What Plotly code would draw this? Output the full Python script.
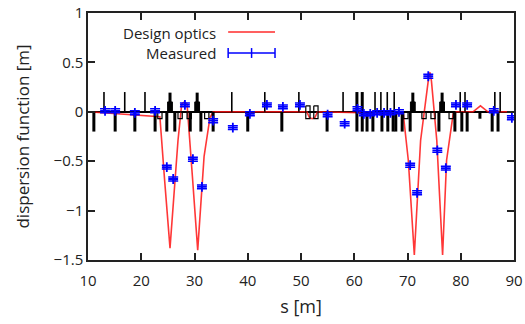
import plotly.graph_objects as go

# ---------------- data ----------------
design_s = [10, 23.5, 24.4, 25.4, 26.9, 27.6, 28.1, 28.6, 29.6, 30.6, 31.8, 32.9, 33.5,
            51.1, 51.6, 52.1, 52.6, 53.1,
            69.2, 70.15, 71.28, 72.46, 73.89, 74.23, 74.5, 75.5, 76.59, 77.34, 78.58, 79.2,
            82.3, 83.7, 85.1, 90]
design_y = [0, -0.05, -0.7, -1.38, -0.29, 0.08, 0.10, 0.08, -0.65, -1.40, -0.45, -0.06, 0,
            0, -0.06, -0.07, -0.06, 0,
            -0.02, -0.49, -1.45, -0.29, 0.31, 0.40, 0.31, -0.29, -1.45, -0.49, -0.02, 0,
            0, 0.06, 0, 0]

meas_s = [13.2, 15.1, 18.8, 22.6, 24.8, 26.0, 28.2, 29.7, 31.4, 33.5, 37.2, 40.4, 43.6,
          46.6, 49.8, 55.0, 58.2, 60.6, 61.8, 63.0, 64.3, 65.6, 66.8, 68.4, 70.5, 71.8,
          73.9, 75.6, 77.2, 79.1, 81.2, 86.2, 89.6]
meas_y = [0.01, 0.01, -0.01, 0.01, -0.56, -0.68, 0.07, -0.48, -0.76, -0.09, -0.16, -0.02, 0.07,
          0.05, 0.07, -0.03, -0.12, 0.03, -0.02, -0.02, -0.01, -0.01, -0.01, 0.0, -0.54, -0.82,
          0.36, -0.39, -0.57, 0.07, 0.07, 0.01, -0.06]
meas_err = [0.02] * len(meas_s)

# lattice elements (positions along s)
thin_up = [13.0, 16.9, 20.7, 37.0, 43.2, 49.6, 57.9, 63.9, 65.0, 66.2, 67.5, 79.9, 80.8, 86.4, 87.4]
thick_up = [60.5, 61.5]
thick_down = [11.1, 15.1, 18.8, 22.6, 24.8, 26.3, 29.2, 31.2, 33.5, 40.0, 46.4, 54.9, 60.5,
              61.5, 62.4, 63.5, 65.2, 66.3, 67.3, 67.8, 69.0, 70.5, 75.9, 78.9, 80.2, 81.2,
              85.9, 87.0]
short_down = [83.6]
quad_focus = [25.4, 30.5, 71.0, 76.5]
open_box = [23.5, 27.3, 29.0, 32.3, 69.7, 73.1, 74.8, 78.2]
small_box = [51.3, 52.8]

# element drawing sizes (style)
H_LINE = 0.2
H_QBOX = 0.1
W_QBOX = 0.9
H_OBOX = 0.07
W_OBOX = 0.8


def vsegs(xs, y0, y1):
    X, Y = [], []
    for s in xs:
        X += [s, s, None]
        Y += [y0, y1, None]
    return X, Y


def boxes(xs, w, y0, y1):
    X, Y = [], []
    for s in xs:
        X += [s - w / 2, s + w / 2, s + w / 2, s - w / 2, s - w / 2, None]
        Y += [y0, y0, y1, y1, y0, None]
    return X, Y


fig = go.Figure()

# design optics
fig.add_trace(go.Scatter(x=design_s, y=design_y, mode="lines",
                         line=dict(color="rgba(255,20,20,0.85)", width=1.6),
                         showlegend=False, hoverinfo="skip"))

# lattice
for xs, y0, y1, wd in [(thin_up, 0, H_LINE, 1.6), (thick_up, 0, H_LINE, 3),
                       (thick_down, 0, -H_LINE, 3), (short_down, 0, -H_OBOX, 3),
                       (quad_focus, 0, H_LINE * 0.97, 3)]:
    X, Y = vsegs(xs, y0, y1)
    fig.add_trace(go.Scatter(x=X, y=Y, mode="lines", line=dict(color="black", width=wd),
                             showlegend=False, hoverinfo="skip"))

X, Y = boxes(quad_focus, W_QBOX, 0, H_QBOX)
fig.add_trace(go.Scatter(x=X, y=Y, mode="lines", fill="toself", fillcolor="black",
                         line=dict(color="black", width=1), showlegend=False, hoverinfo="skip"))
X, Y = boxes(open_box, W_OBOX, 0, -H_OBOX)
fig.add_trace(go.Scatter(x=X, y=Y, mode="lines", line=dict(color="black", width=1.2),
                         showlegend=False, hoverinfo="skip"))
X, Y = boxes(small_box, W_OBOX, 0.06, -H_OBOX)
fig.add_trace(go.Scatter(x=X, y=Y, mode="lines", line=dict(color="black", width=1.2),
                         showlegend=False, hoverinfo="skip"))

# measured
fig.add_trace(go.Scatter(x=meas_s, y=meas_y, mode="markers",
                         marker=dict(symbol="cross-thin", size=7, color="blue",
                                     line=dict(color="blue", width=1.8)),
                         error_y=dict(type="data", array=meas_err, color="blue",
                                      thickness=1.5, width=5),
                         showlegend=False, hoverinfo="skip"))

font = "Open Sans, DejaVu Sans, sans-serif"
txtc = "#222222"

axis_common = dict(showline=True, linecolor=txtc, linewidth=1.5, mirror="ticks",
                   ticks="inside", ticklen=7, tickwidth=1.5, tickcolor=txtc,
                   showgrid=False, automargin=False,
                   tickfont=dict(family=font, size=15, color=txtc))

fig.update_xaxes(range=[10, 90], dtick=10, tick0=10, zeroline=False,
                 ticklabelstandoff=6,
                 title=dict(text="s [m]", font=dict(family=font, size=18, color=txtc),
                            standoff=12),
                 **axis_common)
fig.update_yaxes(range=[-1.5, 1], dtick=0.5, tick0=0, zeroline=True,
                 zerolinecolor="black", zerolinewidth=2,
                 title=dict(text="dispersion function [m]",
                            font=dict(family=font, size=17, color=txtc), standoff=20),
                 **axis_common)

# legend (gnuplot style: text then sample)
leg_font = dict(family=font, size=15, color=txtc)
fig.add_annotation(xref="paper", yref="paper", x=0.305, y=0.921, text="Design optics",
                   showarrow=False, xanchor="right", yanchor="middle", font=leg_font)
fig.add_annotation(xref="paper", yref="paper", x=0.305, y=0.838, text="Measured",
                   showarrow=False, xanchor="right", yanchor="middle", font=leg_font)
fig.add_shape(type="line", xref="paper", yref="paper", x0=0.329, x1=0.439, y0=0.923, y1=0.923,
              line=dict(color="rgba(255,20,20,0.9)", width=1.6))
fig.add_shape(type="line", xref="paper", yref="paper", x0=0.329, x1=0.439, y0=0.838, y1=0.838,
              line=dict(color="blue", width=1.5))
for xp in (0.329, 0.384, 0.439):
    fig.add_shape(type="line", xref="paper", yref="paper", x0=xp, x1=xp, y0=0.818, y1=0.858,
                  line=dict(color="blue", width=1.5))

fig.update_layout(width=525, height=324, margin=dict(l=88, r=11, t=13, b=64),
                  plot_bgcolor="white", paper_bgcolor="white", showlegend=False)

fig.write_html("out.html")
